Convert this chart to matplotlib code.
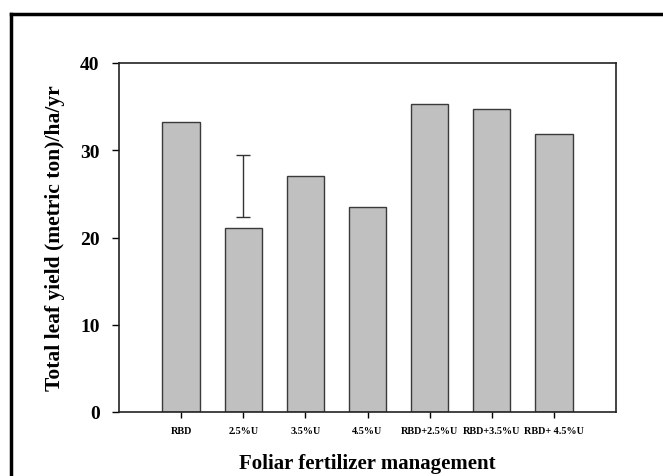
import matplotlib
matplotlib.use("Agg")
import matplotlib.pyplot as plt
from matplotlib.lines import Line2D

# data
treatments = ["RBD", "2.5%U", "3.5%U", "4.5%U", "RBD+2.5%U", "RBD+3.5%U", "RBD+ 4.5%U"]
yield_vals = [33.2, 21.05, 27.0, 23.5, 35.3, 34.7, 31.9]
# the one error bar (above the 2.5%U bar)
err_idx = 1
err_low, err_high = 22.4, 29.5

plt.rcParams['font.family'] = ['Liberation Serif', 'DejaVu Serif']

fig = plt.figure(figsize=(6.63, 4.77), dpi=100)
ax = fig.add_axes([119/663, 1 - 413/477, (616-119)/663, (413-64)/477])

x = list(range(len(treatments)))
ax.bar(x, yield_vals, width=0.6, color="#c0c0c0", edgecolor="#3a3a3a", linewidth=1.0, zorder=2)

mid = (err_low + err_high) / 2
ax.errorbar(x[err_idx], mid, yerr=(err_high - err_low) / 2, fmt="none",
            ecolor="#333333", elinewidth=1.0, capsize=5, capthick=1.0, zorder=3)

ax.set_xlim(-1, 7)
ax.set_ylim(0, 40)
ax.set_yticks([0, 10, 20, 30, 40])
ax.set_xticks(x)
ax.set_xticklabels(treatments, fontsize=7.3, fontweight="bold")
for lab in ax.get_yticklabels():
    lab.set_fontsize(14)
    lab.set_fontweight("bold")
ax.tick_params(axis="y", direction="out", length=5, width=1, pad=9)
ax.tick_params(axis="x", direction="out", length=4, width=1, pad=6)
for s in ax.spines.values():
    s.set_linewidth(1.2)
    s.set_color("#222222")

ax.set_ylabel("Total leaf yield (metric ton)/ha/yr", fontsize=15.5, fontweight="bold", labelpad=11)
ax.set_xlabel("Foliar fertilizer management", fontsize=15, fontweight="bold", labelpad=13)

# outer frame of the original figure (left and top edges visible)
fig.add_artist(Line2D([11/663, 11/663], [0, 1 - 15/477], transform=fig.transFigure, color="black", linewidth=2.5))
fig.add_artist(Line2D([11/663, 1], [1 - 15/477, 1 - 15/477], transform=fig.transFigure, color="black", linewidth=2.5))

fig.savefig("out.png", dpi=100)
